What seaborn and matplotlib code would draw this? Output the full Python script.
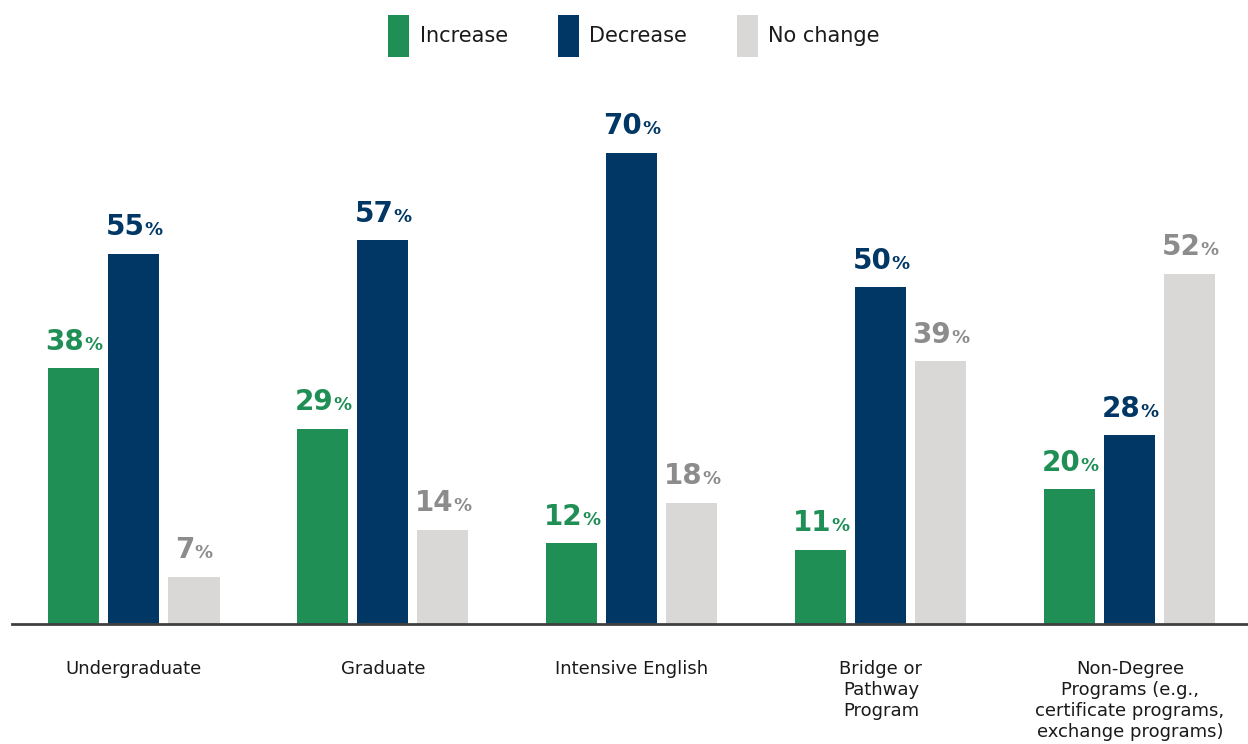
import matplotlib
matplotlib.use("Agg")
import matplotlib.pyplot as plt
import seaborn as sns
import pandas as pd
from matplotlib.offsetbox import TextArea, HPacker, AnnotationBbox
from matplotlib.patches import Patch

categories = ["Undergraduate", "Graduate", "Intensive English",
              "Bridge or\nPathway\nProgram",
              "Non-Degree\nPrograms (e.g.,\ncertificate programs,\nexchange programs)"]
series = ["Increase", "Decrease", "No change"]
increase = [38, 29, 12, 11, 20]
decrease = [55, 57, 70, 50, 28]
no_change = [7, 14, 18, 39, 52]

colors = ["#1F8F55", "#003764", "#D9D8D6"]
label_colors = ["#1F8F55", "#003764", "#8C8C8C"]

df = pd.DataFrame({
    "category": categories * 3,
    "series": [s for s in series for _ in categories],
    "value": increase + decrease + no_change,
})

sns.set_theme(style="white")
plt.rcParams['font.family'] = ['DejaVu Sans']

fig = plt.figure(figsize=(12.48, 7.44), dpi=100)
ax = fig.add_axes([0.0096, 0.1613, 0.9904, 0.7312])
sns.barplot(data=df, x="category", y="value", hue="series", hue_order=series,
            order=categories, palette=colors, width=0.723, gap=0.15,
            saturation=1, ax=ax, legend=False, edgecolor="none", linewidth=0)

ax.set_xlim(-0.49, 4.474)
ax.set_ylim(0, 80.8)
ax.set_xlabel("")
ax.set_ylabel("")
ax.set_yticks([])
for s in ["left", "top", "right"]:
    ax.spines[s].set_visible(False)
ax.spines["bottom"].set_color("#404040")
ax.spines["bottom"].set_linewidth(2)
ax.tick_params(axis="x", length=0, pad=26, labelsize=13, labelcolor="#1a1a1a")

for container, lc in zip(ax.containers, label_colors):
    for bar in container:
        h = bar.get_height()
        x = bar.get_x() + bar.get_width() / 2
        num = TextArea(f"{int(round(h))}", textprops=dict(color=lc, fontsize=20, fontweight="bold"))
        pct = TextArea("%", textprops=dict(color=lc, fontsize=13, fontweight="bold"))
        box = HPacker(children=[num, pct], align="baseline", pad=0, sep=0)
        ab = AnnotationBbox(box, (x, h), xybox=(0, 9), xycoords="data",
                            boxcoords="offset points", box_alignment=(0.5, 0),
                            frameon=False, pad=0)
        ax.add_artist(ab)

handles = [Patch(facecolor=c, edgecolor="none") for c in colors]
fig.legend(handles, series, loc="upper center", bbox_to_anchor=(0.508, 1.005),
           ncol=3, frameon=False, fontsize=15, handlelength=1.0, handleheight=2.7,
           handletextpad=0.5, columnspacing=2.4, labelcolor="#1a1a1a")

fig.savefig("out.png", dpi=100)
